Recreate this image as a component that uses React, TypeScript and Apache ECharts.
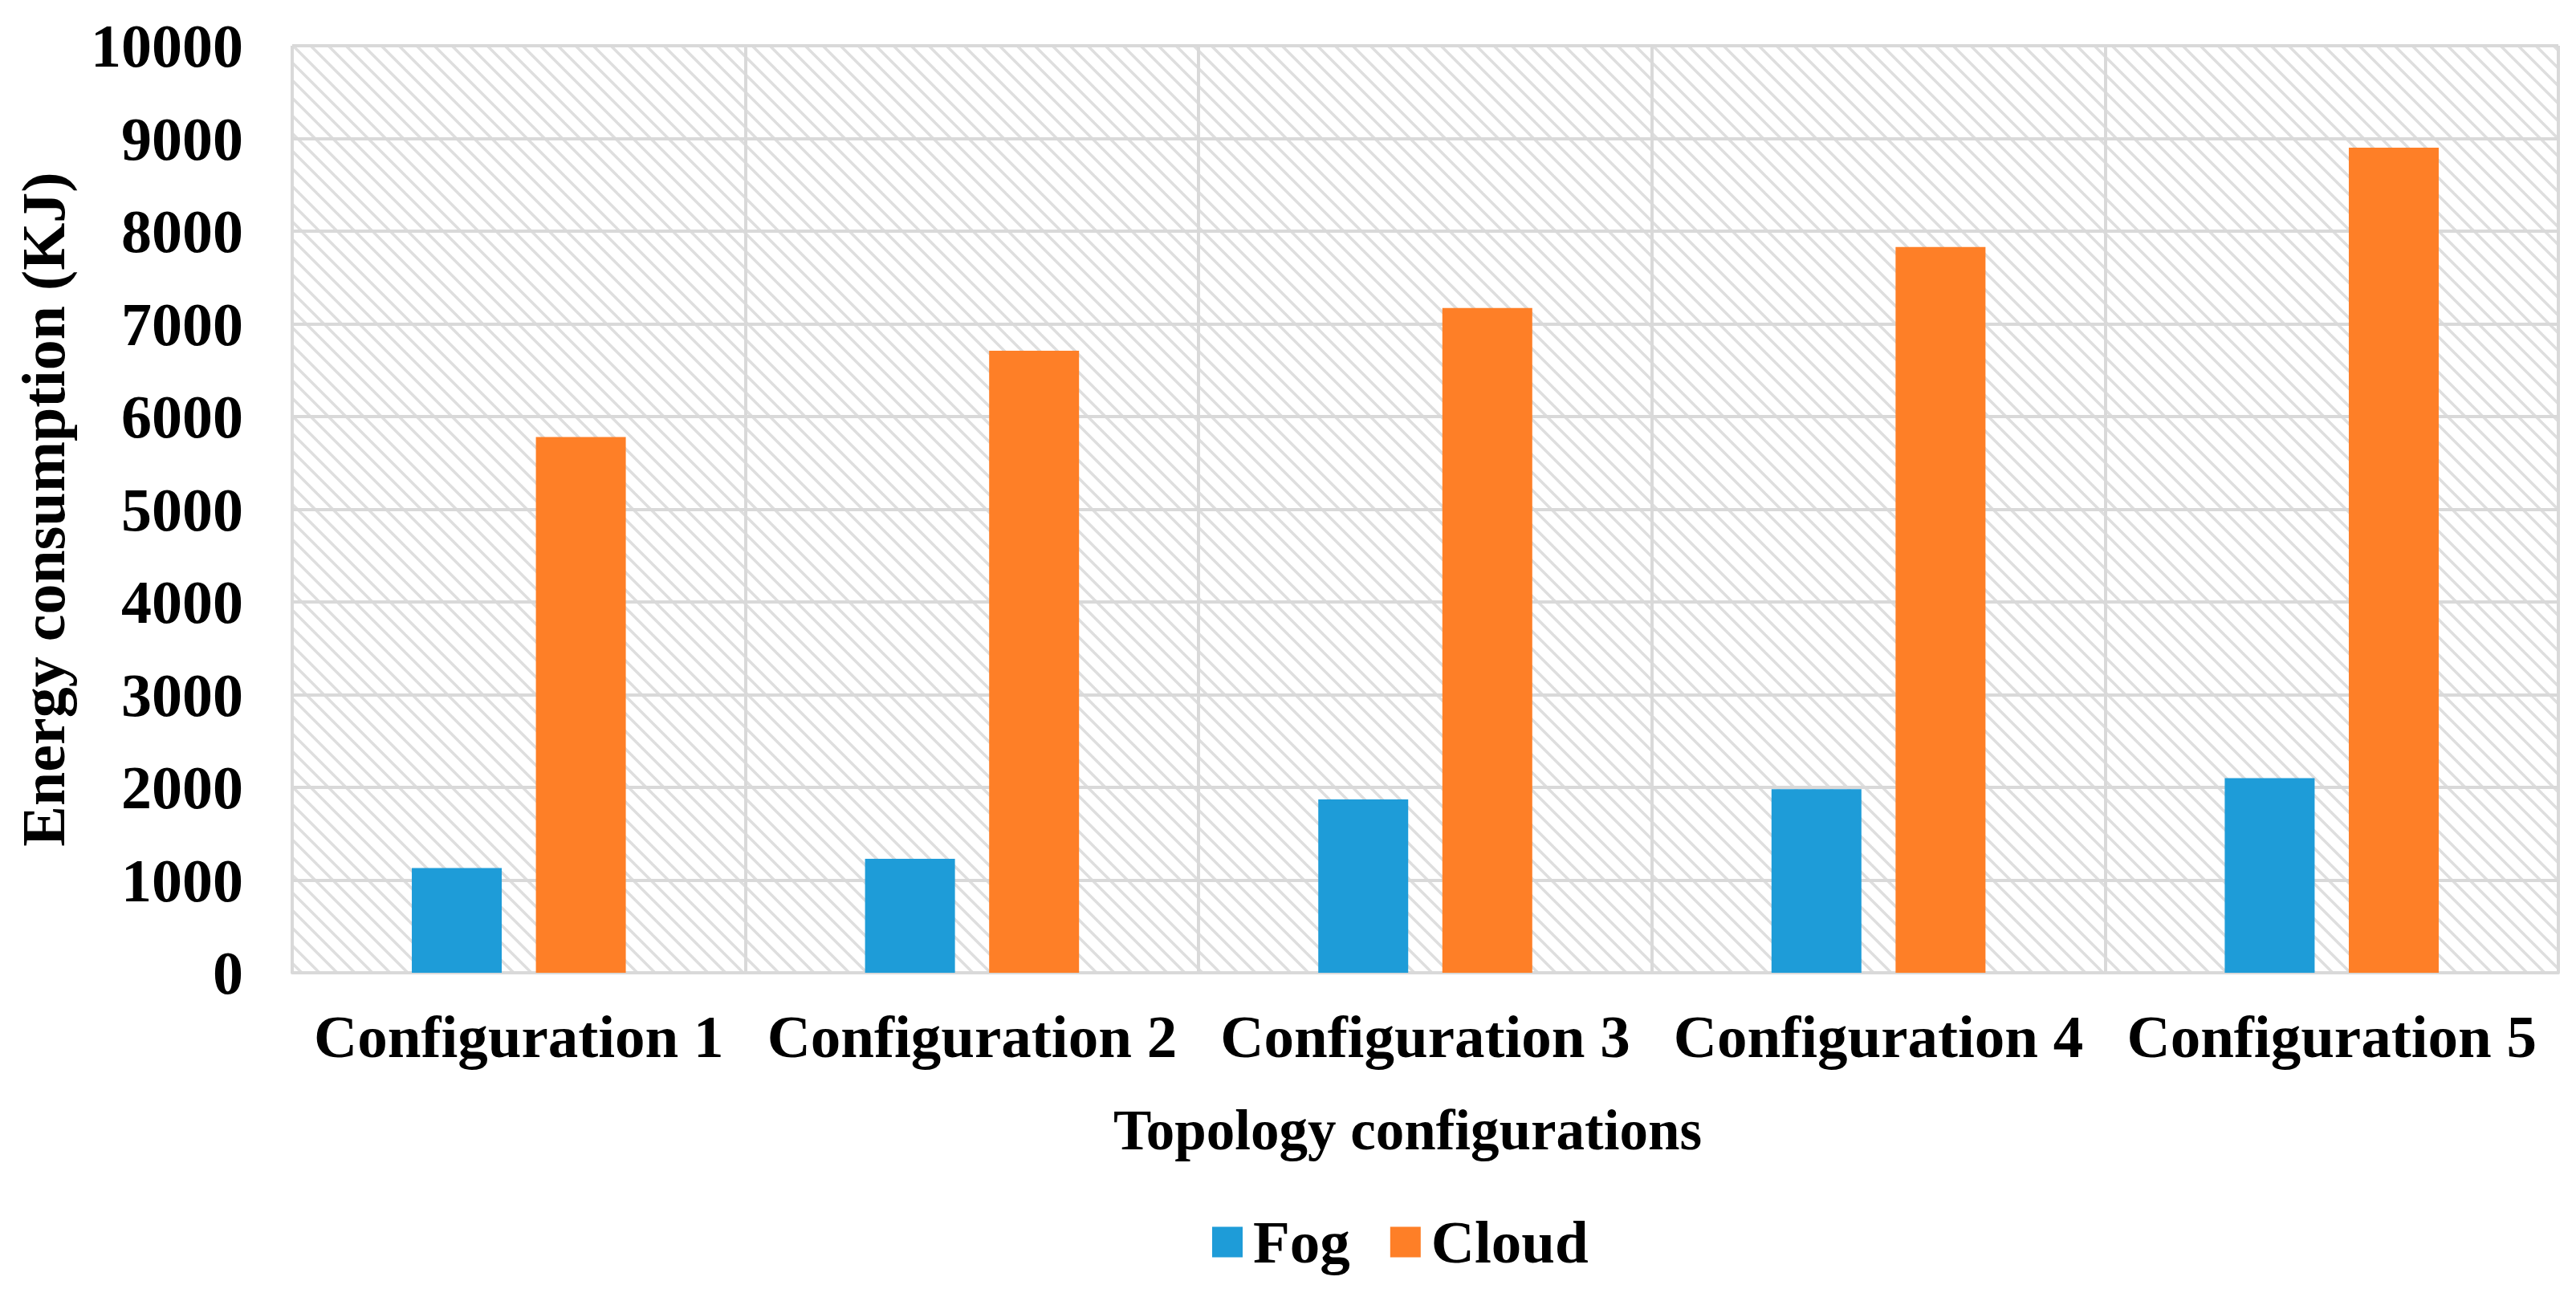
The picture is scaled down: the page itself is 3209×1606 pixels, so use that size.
import React, { useEffect, useRef } from "react";
import * as echarts from "echarts";

const categories = ["Configuration 1", "Configuration 2", "Configuration 3", "Configuration 4", "Configuration 5"];
const fogValues = [1130, 1230, 1870, 1980, 2100];
const cloudValues = [5780, 6710, 7170, 7830, 8900];
const seriesNames = ["Fog", "Cloud"];
const yMin = 0;
const yMax = 10000;
const yInterval = 1000;

const FONT = "'Liberation Serif', 'Times New Roman', serif";

function makeHatch(): HTMLCanvasElement {
  const s = 22;
  const c = document.createElement("canvas");
  c.width = s;
  c.height = s;
  const ctx = c.getContext("2d")!;
  ctx.fillStyle = "#ffffff";
  ctx.fillRect(0, 0, s, s);
  ctx.strokeStyle = "#dedede";
  ctx.lineWidth = 3.5;
  for (let k = -1; k <= 1; k++) {
    ctx.beginPath();
    ctx.moveTo(k * s - 2, -2);
    ctx.lineTo(k * s + s + 2, s + 2);
    ctx.stroke();
  }
  return c;
}

export default function App() {
  const ref = useRef<HTMLDivElement>(null);
  useEffect(() => {
    if (!ref.current) return;
    const chart = echarts.init(ref.current, undefined, { renderer: "svg" });
    const gridColor = "#d9d9d9";
    chart.setOption({
      animation: false,
      backgroundColor: "#ffffff",
      grid: {
        left: 364,
        right: 22,
        top: 57,
        bottom: 394,
        show: true,
        borderWidth: 0,
        containLabel: false,
        outerBoundsMode: "none",
        backgroundColor: { image: makeHatch(), repeat: "repeat" },
      },
      legend: {
        data: seriesNames,
        left: 1510,
        top: 1510,
        icon: "rect",
        itemWidth: 38,
        itemHeight: 38,
        itemGap: 50,
        padding: 0,
        textStyle: {
          fontFamily: FONT,
          fontWeight: "bold",
          fontSize: 75,
          color: "#000",
          padding: [0, 0, 0, 8],
        },
      },
      xAxis: {
        type: "category",
        data: categories,
        name: "Topology configurations",
        nameLocation: "middle",
        nameGap: 160,
        nameTextStyle: {
          fontFamily: FONT,
          fontWeight: "bold",
          fontSize: 71,
          color: "#000",
          padding: [0, 44, 0, 0],
        },
        axisTick: { show: false, interval: 0 },
        axisLine: { show: true, lineStyle: { color: gridColor, width: 4 } },
        splitLine: { show: true, interval: 0, lineStyle: { color: gridColor, width: 4 } },
        axisLabel: {
          interval: 0,
          hideOverlap: false,
          fontFamily: FONT,
          fontWeight: "bold",
          fontSize: 75,
          color: "#000",
          margin: 42,
        },
      },
      yAxis: {
        type: "value",
        min: yMin,
        max: yMax,
        interval: yInterval,
        name: "Energy consumption (KJ)",
        nameLocation: "middle",
        nameGap: 272,
        nameTextStyle: {
          fontFamily: FONT,
          fontWeight: "bold",
          fontSize: 76,
          color: "#000",
        },
        axisLine: { show: false },
        axisTick: { show: false },
        splitLine: { show: true, lineStyle: { color: gridColor, width: 4 } },
        axisLabel: {
          formatter: (v: number) => String(v),
          fontFamily: FONT,
          fontWeight: "bold",
          fontSize: 76,
          color: "#000",
          margin: 61,
        },
      },
      series: [
        {
          name: seriesNames[0],
          type: "bar",
          data: fogValues,
          barWidth: 112,
          barGap: "38%",
          itemStyle: { color: "#1e9cd8" },
        },
        {
          name: seriesNames[1],
          type: "bar",
          data: cloudValues,
          barWidth: 112,
          itemStyle: { color: "#fe7f27" },
        },
      ],
    });
    return () => chart.dispose();
  }, []);
  return (
    <div
      ref={ref}
      style={{ position: "fixed", left: 0, top: 0, width: 3209, height: 1606 }}
    />
  );
}
